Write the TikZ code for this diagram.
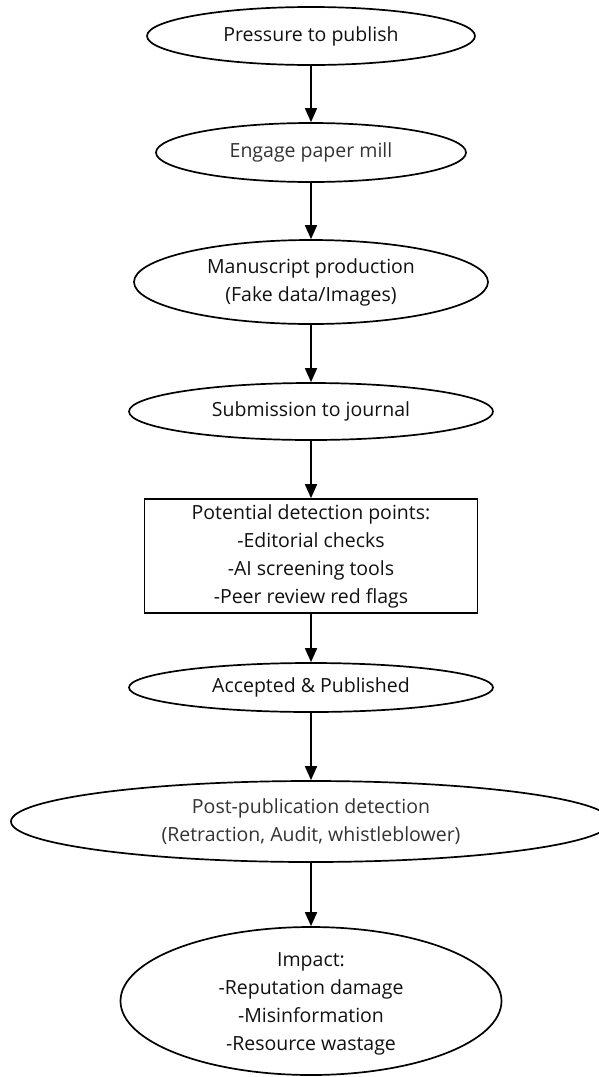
\documentclass[tikz,border=0pt]{standalone}
\usepackage{fontspec}
\setmainfont{Open Sans}
\usetikzlibrary{shapes.geometric,arrows.meta}
\definecolor{txtc}{HTML}{111111}
\definecolor{txtg}{HTML}{333333}
\tikzset{
  ell/.style={ellipse, draw=black, line width=1.7pt, inner sep=0pt, fill=white},
  boxnode/.style={rectangle, draw=black, line width=1.7pt, inner sep=0pt, fill=white},
  lbl/.style={align=center, text=txtc, font=\fontsize{19.5}{28}\selectfont, inner sep=0pt},
  conn/.style={line width=1.7pt, -{Triangle[width=12pt,length=14pt]}}
}
\begin{document}
\begin{tikzpicture}[x=1pt,y=-1pt]
\useasboundingbox (0,0) rectangle (599,1077);
\fill[white] (0,0) rectangle (599,1077);
\node[ell, minimum width=328pt, minimum height=58pt] (n1) at (311,36) {};
\node[lbl] (t1) at (n1) {Pressure to publish};
\node[ell, minimum width=310pt, minimum height=59pt] (n2) at (311,152.5) {};
\node[lbl, text=txtg] (t2) at (n2) {Engage paper mill};
\node[ell, minimum width=354pt, minimum height=84pt] (n3) at (311,282) {};
\node[lbl] (t3) at (n3) {Manuscript production\\(Fake data/Images)};
\node[ell, minimum width=364pt, minimum height=57pt] (n4) at (311,411.5) {};
\node[lbl] (t4) at (n4) {Submission to journal};
\node[boxnode, minimum width=333pt, minimum height=114pt] (n5) at (311,556) {};
\node[lbl] (t5) at (n5) {Potential detection points:\\-Editorial checks\\-AI screening tools\\-Peer review red flags};
\node[ell, minimum width=364pt, minimum height=49pt] (n6) at (311,687.5) {};
\node[lbl] (t6) at (n6) {Accepted \& Published};
\node[ell, minimum width=600pt, minimum height=81pt] (n7) at (311,821.5) {};
\node[lbl, text=txtg] (t7) at (n7) {Post-publication detection\\(Retraction, Audit, whistleblower)};
\node[ell, minimum width=381pt, minimum height=148pt] (n8) at (311,1001) {};
\node[lbl] (t8) at (311,1004) {Impact:\\-Reputation damage\\-Misinformation\\-Resource wastage};
\draw[conn] (n1.south) -- (n2.north);
\draw[conn] (n2.south) -- (n3.north);
\draw[conn] (n3.south) -- (n4.north);
\draw[conn] (n4.south) -- (n5.north);
\draw[conn] (n5.south) -- (n6.north);
\draw[conn] (n6.south) -- (n7.north);
\draw[conn] (n7.south) -- (n8.north);
\end{tikzpicture}
\end{document}
